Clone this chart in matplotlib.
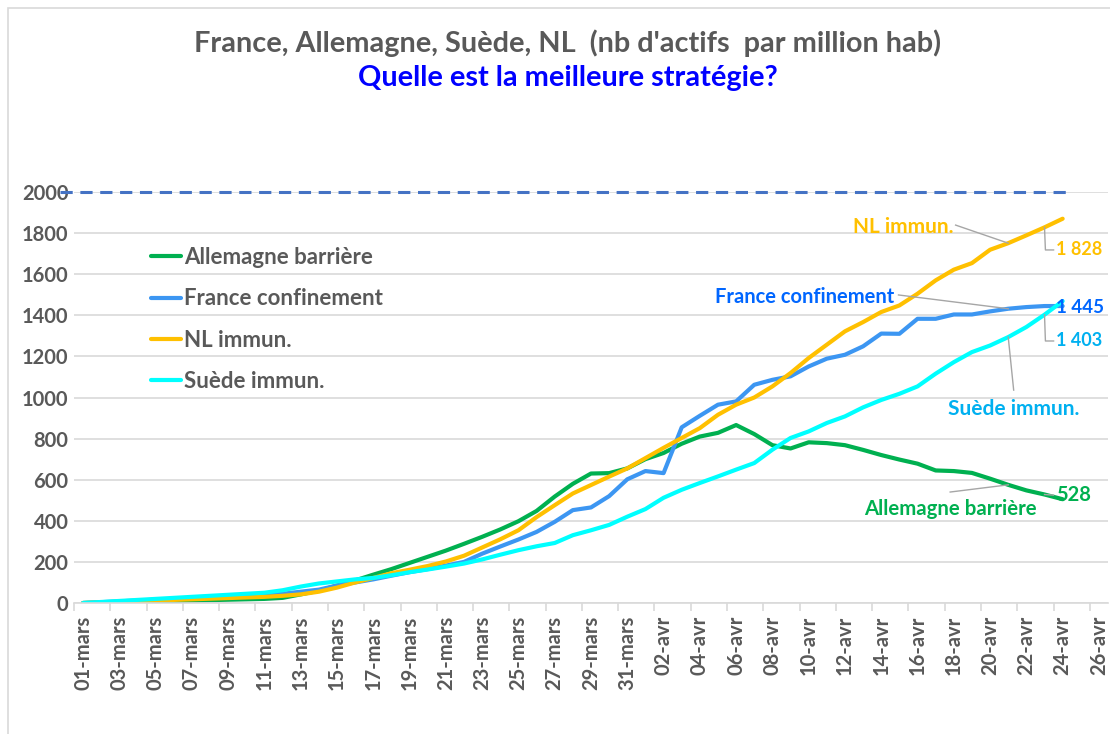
import numpy as np
import matplotlib
matplotlib.use("Agg")
import matplotlib.pyplot as plt
from matplotlib.patches import Rectangle

plt.rcParams['font.family'] = ['Lato', 'DejaVu Sans']

# one value per day, 01-mars (day 0) to 24-avr (day 54)
allemagne = [0, 2, 4, 6, 8, 10, 12, 14, 16, 18,
             20, 25, 42, 60, 85, 110, 138, 165, 195, 225,
             255, 288, 322, 358, 398, 448, 518, 580, 630, 632,
             655, 700, 730, 775, 810, 828, 866, 822, 768, 752,
             782, 778, 768, 745, 720, 698, 678, 645, 642, 633,
             605, 575, 548, 528, 505]
france = [0, 4, 8, 12, 16, 20, 24, 28, 32, 36,
          40, 45, 55, 65, 85, 100, 115, 133, 150, 165,
          182, 200, 240, 275, 309, 346, 395, 452, 465, 520,
          602, 642, 632, 855, 911, 965, 981, 1062, 1086, 1103,
          1151, 1189, 1208, 1249, 1311, 1310, 1383, 1383, 1404, 1404,
          1419, 1432, 1440, 1445, 1445]
nl = [0, 3, 6, 9, 12, 15, 18, 21, 24, 27,
      30, 35, 42, 55, 75, 100, 122, 145, 162, 180,
      202, 230, 270, 310, 354, 418, 476, 533, 574, 615,
      655, 705, 755, 803, 851, 916, 965, 1000, 1054, 1119,
      1192, 1257, 1322, 1367, 1416, 1448, 1505, 1570, 1622, 1654,
      1719, 1751, 1789, 1828, 1870]
suede = [0, 5, 10, 15, 20, 25, 30, 35, 40, 45,
         50, 62, 80, 95, 105, 115, 122, 135, 150, 163,
         177, 192, 212, 235, 257, 276, 292, 330, 354, 380,
         420, 457, 512, 551, 584, 616, 649, 681, 746, 803,
         835, 876, 908, 952, 988, 1018, 1054, 1116, 1172, 1221,
         1253, 1294, 1343, 1403, 1469]

tick_labels = ["01-mars", "03-mars", "05-mars", "07-mars", "09-mars", "11-mars",
               "13-mars", "15-mars", "17-mars", "19-mars", "21-mars", "23-mars",
               "25-mars", "27-mars", "29-mars", "31-mars", "02-avr", "04-avr",
               "06-avr", "08-avr", "10-avr", "12-avr", "14-avr", "16-avr",
               "18-avr", "20-avr", "22-avr", "24-avr", "26-avr"]
seuil = 2000

c_de = "#00B050"
c_fr = "#3C96F2"
c_nl = "#FFC000"
c_se = "#00FFFF"
grey = "#595959"

fig = plt.figure(figsize=(11.1, 7.34), dpi=100)
fig.patches.append(Rectangle((8 / 1110, -0.1), 1.2, (734 - 8) / 734 + 0.1,
                             transform=fig.transFigure, fill=False,
                             edgecolor="#d9d9d9", lw=1.2))
ax = fig.add_axes([74 / 1110, 131 / 734, 1034 / 1110, 411 / 734])

days = np.arange(len(allemagne))
ax.plot(days, allemagne, color=c_de, lw=3, label="Allemagne barrière", solid_capstyle="round")
ax.plot(days, france, color=c_fr, lw=3, label="France confinement", solid_capstyle="round")
ax.plot(days, nl, color=c_nl, lw=3, label="NL immun.", solid_capstyle="round")
ax.plot(days, suede, color=c_se, lw=3, label="Suède immun.", solid_capstyle="round")

# dashed threshold line
ax.plot([-1.25, 54.5], [seuil, seuil], color="#4472C4", lw=2.2, ls=(0, (4, 2.5)),
        clip_on=False, zorder=5)

ax.set_xlim(-0.5, 56.5)
ax.set_ylim(0, 2000)
ax.set_yticks(np.arange(0, 2001, 200))
ax.set_yticklabels([str(v) for v in range(0, 2001, 200)])
ax.grid(axis="y", color="#d9d9d9", lw=1.2)
ax.set_axisbelow(True)
ax.set_xticks(np.arange(0, 57, 2))
ax.set_xticklabels(tick_labels, rotation=90)
ax.set_xticks(np.arange(-0.5, 57, 2), minor=True)
ax.tick_params(axis="x", which="major", length=0, pad=9, labelsize=14.5, labelcolor=grey)
ax.tick_params(axis="x", which="minor", length=6, color="#d9d9d9", width=1.2)
ax.tick_params(axis="y", length=0, pad=4, labelsize=14.5, labelcolor=grey)
for lab in ax.get_xticklabels() + ax.get_yticklabels():
    lab.set_fontweight("bold")
for s in ["top", "right", "left"]:
    ax.spines[s].set_visible(False)
ax.spines["bottom"].set_color("#d9d9d9")
ax.spines["bottom"].set_linewidth(1.2)

leg = ax.legend(loc="upper left", bbox_to_anchor=(0.055, 0.915), frameon=False,
                handlelength=1.35, handletextpad=0.15, labelspacing=0.92,
                prop={"size": 16, "weight": "bold"})
for t in leg.get_texts():
    t.set_color(grey)

# callouts
lc = "#a6a6a6"
ax.text(45.2, 1830, "NL immun.", color=c_nl, fontsize=15, fontweight="bold",
        ha="center", va="center")
ax.plot([48.1, 51], [1839, nl[51]], color=lc, lw=1)
ax.plot([53, 53.05, 53.5], [nl[53], 1718, 1718], color=lc, lw=1, clip_on=False)
ax.text(53.65, 1718, "1 828", color=c_nl, fontsize=13, fontweight="bold", va="center")

ax.text(39.8, 1489, "France confinement", color="#0066FF", fontsize=14.5, fontweight="bold",
        ha="center", va="center")
ax.plot([44.95, 51], [1499, france[51]], color=lc, lw=1)
ax.text(53.65, 1440, "1 445", color="#0066FF", fontsize=13.5, fontweight="bold", va="center")

ax.text(51.3, 944, "Suède immun.", color="#00B0F0", fontsize=15, fontweight="bold",
        ha="center", va="center")
ax.plot([51.3, 51], [1036, suede[51]], color=lc, lw=1)
ax.plot([53, 53.05, 53.5], [suede[53], 1275, 1275], color=lc, lw=1, clip_on=False)
ax.text(53.65, 1275, "1 403", color="#00B0F0", fontsize=13, fontweight="bold", va="center")

ax.text(47.8, 457, "Allemagne barrière", color=c_de, fontsize=14.7, fontweight="bold",
        ha="center", va="center")
ax.plot([47.8, 51], [540, allemagne[51]], color=lc, lw=1)
ax.plot([53, 53.5], [allemagne[53], 525], color=lc, lw=1, clip_on=False)
ax.text(53.65, 525, "528", color=c_de, fontsize=14.5, fontweight="bold", va="center")

fig.text(568 / 1110, 1 - 43 / 734, "France, Allemagne, Suède, NL  (nb d'actifs  par million hab)",
         ha="center", va="center", fontsize=20.8, fontweight="bold", color=grey)
fig.text(568 / 1110, 1 - 78 / 734, "Quelle est la meilleure stratégie?",
         ha="center", va="center", fontsize=20.8, fontweight="bold", color="#0000FF")

fig.savefig("out.png", dpi=100)
